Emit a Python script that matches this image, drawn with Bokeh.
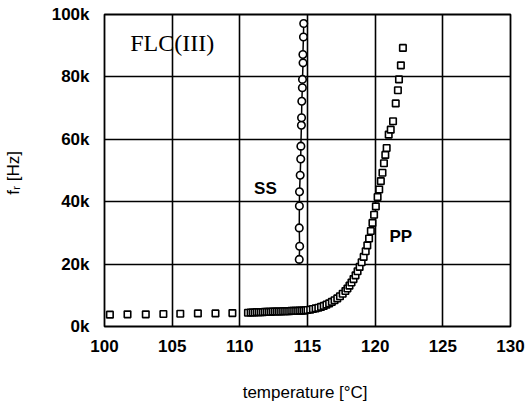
from bokeh.plotting import figure
from bokeh.models import Range1d, FixedTicker, Label
from bokeh.embed import file_html
from bokeh.resources import INLINE

# PP series (squares)
pp_temp = [100.4, 101.7, 103.05, 104.35, 105.6, 106.9, 108.2, 109.45, 110.6,
           110.8, 110.95, 111.1, 111.25, 111.4, 111.55, 111.7, 111.85, 112.0, 112.15,
           112.3, 112.45, 112.6, 112.75, 112.9, 113.05, 113.2, 113.35, 113.5, 113.65,
           113.8, 113.95, 114.1, 114.25, 114.4, 114.55, 114.7, 114.85, 115.0,
           115.2, 115.4, 115.6, 115.8, 116.0, 116.2, 116.4, 116.6, 116.8, 117.0,
           117.2, 117.4, 117.6, 117.8, 117.95, 118.1, 118.25, 118.4, 118.55, 118.7,
           118.85, 119.0, 119.15, 119.3, 119.42, 119.55, 119.68, 119.8, 119.92,
           120.05, 120.18, 120.3, 120.42, 120.54, 120.65, 120.75, 120.85, 121.0,
           121.15, 121.32, 121.52, 121.68, 121.76, 121.9, 122.05]
pp_freq = [3.8, 3.9, 3.9, 4.0, 4.1, 4.2, 4.2, 4.3, 4.4,
           4.5, 4.5, 4.5, 4.6, 4.6, 4.6, 4.6, 4.7, 4.7, 4.7,
           4.7, 4.8, 4.8, 4.8, 4.8, 4.8, 4.9, 4.9, 4.9, 4.9,
           5.0, 5.0, 5.0, 5.0, 5.1, 5.1, 5.1, 5.2, 5.3,
           5.4, 5.6, 5.8, 6.0, 6.3, 6.6, 7.0, 7.4, 7.9, 8.4,
           9.0, 9.7, 10.5, 11.4, 12.2, 13.1, 14.1, 15.2, 16.4, 17.7,
           19.1, 20.6, 22.3, 24.1, 26.0, 28.2, 30.6, 33.2, 35.8,
           38.5, 41.5, 43.9, 46.6, 49.3, 52.3, 55.0, 57.2, 61.5,
           63.1, 65.8, 71.5, 75.7, 79.2, 83.7, 89.3]
pp_freq = [v * 1000 for v in pp_freq]

# SS series (circles, connected)
ss_temp = [114.39, 114.42, 114.39, 114.4, 114.41, 114.46, 114.5, 114.51, 114.55,
           114.56, 114.58, 114.62, 114.63, 114.67, 114.66, 114.7, 114.72]
ss_freq = [21.5, 25.7, 31.6, 38.6, 43.2, 48.5, 53.7, 57.8, 64.5,
           66.9, 72.2, 76.5, 79.2, 84.5, 87.2, 92.8, 97.1]
ss_freq = [v * 1000 for v in ss_freq]

x_ticks = [100, 105, 110, 115, 120, 125, 130]
y_ticks = [0, 20000, 40000, 60000, 80000, 100000]
y_tick_labels = ["0k", "20k", "40k", "60k", "80k", "100k"]

p = figure(width=526, height=408, output_backend="svg", toolbar_location=None,
           x_range=Range1d(100, 130), y_range=Range1d(0, 100000),
           min_border_left=102, min_border_right=16, min_border_top=14, min_border_bottom=82)
p.background_fill_color = "white"
p.border_fill_color = "white"
p.outline_line_color = "black"
p.outline_line_width = 1.8

for ax in (p.xaxis[0], p.yaxis[0]):
    ax.axis_line_color = None
    ax.major_tick_line_color = None
    ax.minor_tick_line_color = None
    ax.major_label_text_font = "Liberation Sans"
    ax.major_label_text_font_size = "17px"
    ax.major_label_text_font_style = "bold"
    ax.major_label_text_color = "black"
    ax.axis_label_text_font = "Liberation Sans"
    ax.axis_label_text_font_style = "normal"
    ax.axis_label_text_color = "black"

p.xaxis.ticker = FixedTicker(ticks=x_ticks)
p.yaxis.ticker = FixedTicker(ticks=y_ticks)
p.yaxis.major_label_overrides = {t: l for t, l in zip(y_ticks, y_tick_labels)}
p.xaxis.major_label_standoff = 7
p.yaxis.major_label_standoff = 9
p.xaxis.axis_label = "temperature  [°C]"
p.yaxis.axis_label = "f\u1d63  [Hz]"
p.xaxis.axis_label_text_font_size = "17px"
p.yaxis.axis_label_text_font_size = "17px"
p.xaxis.axis_label_standoff = 28
p.yaxis.axis_label_standoff = 26

for g in (p.xgrid[0], p.ygrid[0]):
    g.grid_line_color = "black"
    g.grid_line_width = 1.6
p.xgrid.ticker = FixedTicker(ticks=x_ticks[1:-1])
p.ygrid.ticker = FixedTicker(ticks=y_ticks[1:-1])

p.scatter(pp_temp, pp_freq, marker="square", size=6.5, fill_color="white",
          line_color="black", line_width=1.6)
p.line(ss_temp, ss_freq, line_color="black", line_width=1.5)
p.scatter(ss_temp, ss_freq, marker="circle", size=7.5, fill_color="white",
          line_color="black", line_width=1.6)

p.add_layout(Label(x=101.9, y=90800, text="FLC(III)", text_font="Liberation Serif",
                   text_font_size="24px", text_baseline="middle", text_color="black"))
p.add_layout(Label(x=111.05, y=44200, text="SS", text_font="Liberation Sans",
                   text_font_size="17px", text_font_style="bold", text_baseline="middle",
                   text_color="black"))
p.add_layout(Label(x=121.05, y=29000, text="PP", text_font="Liberation Sans",
                   text_font_size="17px", text_font_style="bold", text_baseline="middle",
                   text_color="black"))

open("out.html", "w").write(file_html(p, INLINE))
